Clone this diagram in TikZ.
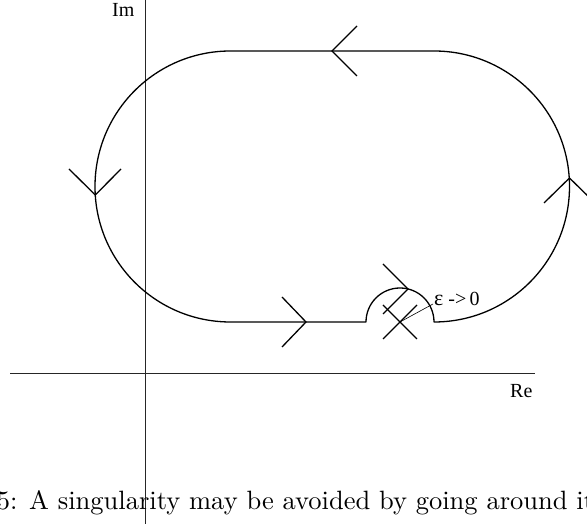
\documentclass[tikz,border=0pt]{standalone}
\usepackage{fontspec}
\usetikzlibrary{calc}
\newfontfamily\lblfont{Liberation Serif}
\newfontfamily\capfont{lmroman10-regular.otf}
\begin{document}
\begin{tikzpicture}[x=1pt,y=1pt,
  contour/.style={line width=1.3pt, line join=round},
  chev/.style={line width=1.3pt},
  axis/.style={line width=0.7pt, draw=black!85},
  lbl/.style={font=\lblfont\fontsize{20}{20}\selectfont, inner sep=0pt, anchor=base west},
  captext/.style={font=\capfont\fontsize{26.5}{26.5}\selectfont, inner sep=0pt, anchor=base west}]
\useasboundingbox (0,0) rectangle (587,524);
% axes
\coordinate (yb) at (145,0);
\coordinate (yt) at (145,524);
\coordinate (xl) at (10,151);
\coordinate (xr) at (535,151);
\draw[axis] (yb) -- (yt);
\draw[axis] (xl) -- (xr);
\node[lbl] (im) at (112,507) {Im};
\node[lbl] (re) at (510,126) {Re};
% contour
\coordinate (bl) at (230.5,202);
\coordinate (sl) at (366,202);
\coordinate (sing) at (400,202);
\draw[contour] (bl) -- (sl) arc[start angle=180,end angle=0,radius=34]
  arc[start angle=-90,end angle=90,radius=135.5] -- (230.5,473)
  arc[start angle=90,end angle=270,radius=135.5] -- cycle;
% chevrons
\coordinate (t1) at (332,473);
\draw[chev] (357,498) -- (t1) -- (357,448);
\coordinate (t2) at (95.3,329);
\draw[chev] (69,355) -- (t2) -- (121,355);
\coordinate (t3) at (569.5,346);
\draw[chev] (544,321) -- (t3) -- (595,321);
\coordinate (t4) at (306,202);
\draw[chev] (282,227) -- (t4) -- (282,177);
\coordinate (t5) at (408,235);
\draw[chev] (383,260) -- (t5) -- (383,210);
% singularity cross
\draw[chev] ($(sing)+(-17,-17)$) -- ($(sing)+(17,17)$);
\draw[chev] ($(sing)+(-17,17)$) -- ($(sing)+(17,-17)$);
% label
\node[lbl] (eps) at (434,218) {\fontsize{22}{22}\selectfont ε\fontsize{20}{20}\selectfont\ -{}>\,0};
\draw[line width=0.6pt] (sing) -- (433,220);
% caption
\node[captext] (caption) at (29,14) {\llap{5:\ \hspace{3pt}}A singularity may be avoided by going around it};
\end{tikzpicture}
\end{document}
